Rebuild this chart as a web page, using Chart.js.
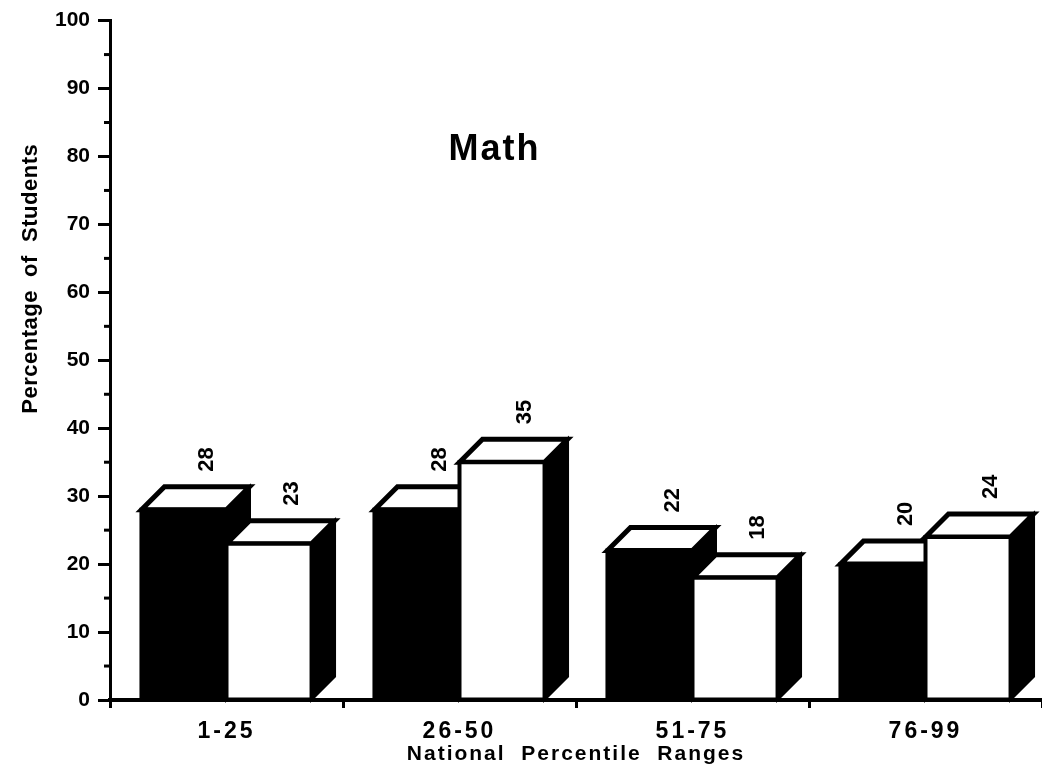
<!DOCTYPE html>
<html>
<head>
<meta charset="utf-8">
<script src="https://cdn.jsdelivr.net/npm/chart.js@4.4.1/dist/chart.umd.min.js"></script>
<style>
  html, body { margin: 0; padding: 0; background: #ffffff; }
  #wrap { width: 1042px; height: 767px; position: relative; }
</style>
</head>
<body>
<div id="wrap"><canvas id="c" width="1042" height="767"></canvas></div>
<script>
// ---- data ----
const categories = ['1-25', '26-50', '51-75', '76-99'];
const blackSeries = [28, 28, 22, 20];
const whiteSeries = [23, 35, 18, 24];
const yTickValues = [0, 10, 20, 30, 40, 50, 60, 70, 80, 90, 100];
const chartTitle = 'Math';
const yAxisTitle = 'Percentage  of  Students';
const xAxisTitle = 'National  Percentile  Ranges';

const FONT = "'Liberation Sans', Arial, Helvetica, sans-serif";
const DEPTH = 23;

const spacingPlugin = {
  id: 'spacing',
  afterLayout(chart) {
    const xs = chart.scales.x;
    if (!xs._wrappedLabels) {
      const origLabels = xs.drawLabels;
      xs.drawLabels = function (area) {
        const c = this.ctx;
        const prev = c.letterSpacing;
        c.letterSpacing = '3px';
        origLabels.call(this, area);
        c.letterSpacing = prev;
      };
      const origTitle = xs.drawTitle;
      xs.drawTitle = function () {
        const c = this.ctx;
        const prev = c.letterSpacing;
        c.letterSpacing = '2px';
        origTitle.call(this);
        c.letterSpacing = prev;
      };
      xs._wrappedLabels = true;
    }
  }
};

const bar3dPlugin = {
  id: 'bar3d',
  afterDatasetsDraw(chart) {
    const ctx = chart.ctx;
    ctx.save();
    ctx.lineJoin = 'miter';
    ctx.strokeStyle = '#000';
    chart.data.datasets.forEach((ds, di) => {
      const meta = chart.getDatasetMeta(di);
      meta.data.forEach((el, i) => {
        const p = el.getProps(['x', 'y', 'base', 'width'], true);
        const l = p.x - p.width / 2, r = p.x + p.width / 2;
        const top = p.y, base = p.base, d = DEPTH;
        // side face
        ctx.lineWidth = 3;
        ctx.beginPath();
        ctx.moveTo(r, top); ctx.lineTo(r + d, top - d); ctx.lineTo(r + d, base - d); ctx.lineTo(r, base);
        ctx.closePath();
        ctx.fillStyle = '#000'; ctx.fill(); ctx.stroke();
        // top face
        ctx.lineWidth = 5;
        ctx.beginPath();
        ctx.moveTo(l, top); ctx.lineTo(l + d, top - d); ctx.lineTo(r + d, top - d); ctx.lineTo(r, top);
        ctx.closePath();
        ctx.fillStyle = '#fff'; ctx.fill(); ctx.stroke();
        // front face
        ctx.lineWidth = 4;
        ctx.beginPath();
        ctx.rect(l, top, p.width, base - top);
        ctx.fillStyle = ds.frontColor; ctx.fill(); ctx.stroke();
        // value label (rotated)
        ctx.save();
        ctx.translate(p.x + d, top - d - 15);
        ctx.rotate(-Math.PI / 2);
        ctx.fillStyle = '#000';
        ctx.font = 'bold 22px ' + FONT;
        ctx.textAlign = 'left';
        ctx.textBaseline = 'middle';
        ctx.fillText(String(ds.data[i]), 0, 0);
        ctx.restore();
      });
    });
    ctx.restore();
  },
  afterDraw(chart) {
    const ctx = chart.ctx;
    const ys = chart.scales.y, xs = chart.scales.x;
    const area = chart.chartArea;
    ctx.save();
    // minor ticks
    ctx.strokeStyle = '#000';
    ctx.lineWidth = 3;
    for (let k = 0; k < yTickValues.length - 1; k++) {
      const v = (yTickValues[k] + yTickValues[k + 1]) / 2;
      const py = ys.getPixelForValue(v);
      ctx.beginPath(); ctx.moveTo(area.left - 6, py); ctx.lineTo(area.left, py); ctx.stroke();
    }
    // chart title
    ctx.fillStyle = '#000';
    ctx.letterSpacing = '2px';
    ctx.font = 'bold 36px ' + FONT;
    ctx.textAlign = 'center';
    ctx.textBaseline = 'middle';
    ctx.fillText(chartTitle, xs.getPixelForValue(1.15), ys.getPixelForValue(81));
    // y axis title
    ctx.letterSpacing = '0.5px';
    ctx.font = 'bold 22px ' + FONT;
    ctx.translate(31, ys.getPixelForValue(62));
    ctx.rotate(-Math.PI / 2);
    ctx.fillText(yAxisTitle, 0, 0);
    ctx.restore();
  }
};

new Chart(document.getElementById('c'), {
  type: 'bar',
  data: {
    labels: categories,
    datasets: [
      { label: 'Black', data: blackSeries, frontColor: '#000', backgroundColor: 'rgba(0,0,0,0)', borderWidth: 0 },
      { label: 'White', data: whiteSeries, frontColor: '#fff', backgroundColor: 'rgba(0,0,0,0)', borderWidth: 0 }
    ]
  },
  options: {
    responsive: false,
    devicePixelRatio: 1,
    animation: false,
    layout: { padding: { top: 20, right: 0, bottom: 0, left: 0 } },
    plugins: { legend: { display: false }, tooltip: { enabled: false }, title: { display: false } },
    datasets: { bar: { categoryPercentage: 0.73, barPercentage: 1.0 } },
    scales: {
      x: {
        offset: true,
        afterFit(scale) { scale.height = 67; },
        grid: { display: true, drawOnChartArea: false, drawTicks: true, tickLength: 8, tickWidth: 3, tickColor: '#000', offset: true },
        border: { display: true, color: '#000', width: 4 },
        ticks: { color: '#000', font: { family: FONT, size: 23, weight: 'bold' }, padding: 10, maxRotation: 0 },
        title: { display: true, text: xAxisTitle, color: '#000', font: { family: FONT, size: 21, weight: 'bold' }, padding: { top: 0, bottom: 0 } }
      },
      y: {
        min: 0, max: 100,
        afterFit(scale) { scale.width = 110; },
        afterBuildTicks(scale) { scale.ticks = yTickValues.map(v => ({ value: v })); },
        grid: { display: true, drawOnChartArea: false, drawTicks: true, tickLength: 12, tickWidth: 3, tickColor: '#000' },
        border: { display: true, color: '#000', width: 3 },
        ticks: { color: '#000', font: { family: FONT, size: 21, weight: 'bold' }, padding: 8 },
        title: { display: false }
      }
    }
  },
  plugins: [spacingPlugin, bar3dPlugin]
});
</script>
</body>
</html>
